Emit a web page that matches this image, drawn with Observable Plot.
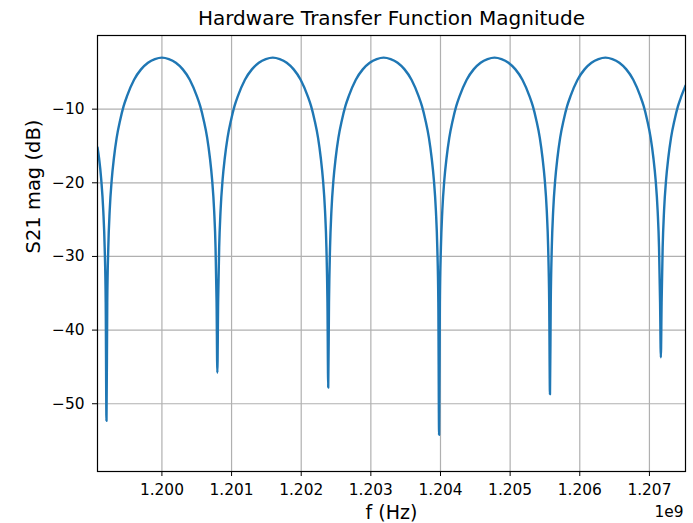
<!DOCTYPE html>
<html>
<head>
<meta charset="utf-8">
<script src="https://cdn.jsdelivr.net/npm/d3@7"></script>
<script src="https://cdn.jsdelivr.net/npm/@observablehq/plot@0.6"></script>
<style>
  html, body { margin: 0; padding: 0; background: #fff; }
  #chart { width: 693px; height: 523px; }
</style>
</head>
<body>
<div id="chart"></div>
<script>
// Frequency in units of 1e9 Hz (GHz)
const freqGHz = [
  1.199075, 1.199098, 1.199128, 1.199158, 1.199178, 1.199193, 1.199204,
  1.199215, 1.199230, 1.199250, 1.199280, 1.199310, 1.199350, 1.199400, 1.199450, 1.199500,
  1.199600, 1.199700, 1.199800, 1.199900, 1.200000, 1.200100, 1.200200, 1.200300, 1.200400,
  1.200500, 1.200550, 1.200600, 1.200650, 1.200690, 1.200720, 1.200750, 1.200770, 1.200785, 1.200796,
  1.200807, 1.200822, 1.200842, 1.200872, 1.200902, 1.200942, 1.200992, 1.201042, 1.201092,
  1.201192, 1.201292, 1.201392, 1.201492, 1.201592, 1.201692, 1.201792, 1.201892, 1.201992,
  1.202092, 1.202142, 1.202192, 1.202242, 1.202282, 1.202312, 1.202342, 1.202362, 1.202377, 1.202388,
  1.202399, 1.202414, 1.202434, 1.202464, 1.202494, 1.202534, 1.202584, 1.202634, 1.202684,
  1.202784, 1.202884, 1.202984, 1.203084, 1.203184, 1.203284, 1.203384, 1.203484, 1.203584,
  1.203684, 1.203734, 1.203784, 1.203834, 1.203874, 1.203904, 1.203934, 1.203954, 1.203969, 1.203980,
  1.203991, 1.204006, 1.204026, 1.204056, 1.204086, 1.204126, 1.204176, 1.204226, 1.204276,
  1.204376, 1.204476, 1.204576, 1.204676, 1.204776, 1.204876, 1.204976, 1.205076, 1.205176,
  1.205276, 1.205326, 1.205376, 1.205426, 1.205466, 1.205496, 1.205526, 1.205546, 1.205561, 1.205572,
  1.205583, 1.205598, 1.205618, 1.205648, 1.205678, 1.205718, 1.205768, 1.205818, 1.205868,
  1.205968, 1.206068, 1.206168, 1.206268, 1.206368, 1.206468, 1.206568, 1.206668, 1.206768,
  1.206868, 1.206918, 1.206968, 1.207018, 1.207058, 1.207088, 1.207118, 1.207138, 1.207153, 1.207164,
  1.207175, 1.207190, 1.207210, 1.207240, 1.207270, 1.207310, 1.207360, 1.207410, 1.207460, 1.207518
];
// S21 magnitude in dB
const magDb = [
  -15.2, -16.7, -19.5, -23.8, -28.8, -36.3, -52.3,
  -36.3, -28.8, -23.8, -19.5, -16.7, -13.9, -11.5, -9.6, -8.2,
  -6.0, -4.6, -3.7, -3.2, -3.0, -3.2, -3.7, -4.6, -6.0,
  -8.2, -9.6, -11.5, -13.9, -16.7, -19.5, -23.8, -28.8, -36.3, -45.8,
  -36.3, -28.8, -23.8, -19.5, -16.7, -13.9, -11.5, -9.6, -8.2,
  -6.0, -4.6, -3.7, -3.2, -3.0, -3.2, -3.7, -4.6, -6.0,
  -8.2, -9.6, -11.5, -13.9, -16.7, -19.5, -23.8, -28.8, -36.3, -47.8,
  -36.3, -28.8, -23.8, -19.5, -16.7, -13.9, -11.5, -9.6, -8.2,
  -6.0, -4.6, -3.7, -3.2, -3.0, -3.2, -3.7, -4.6, -6.0,
  -8.2, -9.6, -11.5, -13.9, -16.7, -19.5, -23.8, -28.8, -36.3, -54.2,
  -36.3, -28.8, -23.8, -19.5, -16.7, -13.9, -11.5, -9.6, -8.2,
  -6.0, -4.6, -3.7, -3.2, -3.0, -3.2, -3.7, -4.6, -6.0,
  -8.2, -9.6, -11.5, -13.9, -16.7, -19.5, -23.8, -28.8, -36.3, -48.7,
  -36.3, -28.8, -23.8, -19.5, -16.7, -13.9, -11.5, -9.6, -8.2,
  -6.0, -4.6, -3.7, -3.2, -3.0, -3.2, -3.7, -4.6, -6.0,
  -8.2, -9.6, -11.5, -13.9, -16.7, -19.5, -23.8, -28.8, -36.3, -43.7,
  -36.3, -28.8, -23.8, -19.5, -16.7, -13.9, -11.5, -9.6, -8.2, -6.8
];
const xTicks = [1.200, 1.201, 1.202, 1.203, 1.204, 1.205, 1.206, 1.207];
const yTicks = [-50, -40, -30, -20, -10];
const titleText = "Hardware Transfer Function Magnitude";
const xLabel = "f (Hz)";
const yLabel = "S21 mag (dB)";
const offsetText = "1e9";

const data = freqGHz.map((f, i) => ({f, db: magDb[i]}));
const font = "DejaVu Sans, sans-serif";

const chart = Plot.plot({
  width: 693,
  height: 523,
  marginTop: 35,
  marginLeft: 97,
  marginRight: 8,
  marginBottom: 52,
  style: {fontFamily: font, fontSize: "15.4px", background: "#fff", color: "#000"},
  x: {domain: [1.199075, 1.207518]},
  y: {domain: [-59.2, 0]},
  marks: [
    Plot.gridX(xTicks, {stroke: "#b0b0b0", strokeOpacity: 1, strokeWidth: 1.2}),
    Plot.gridY(yTicks, {stroke: "#b0b0b0", strokeOpacity: 1, strokeWidth: 1.2}),
    Plot.line(data, {x: "f", y: "db", stroke: "#1f77b4", strokeWidth: 2.4, curve: "monotone-x", clip: true}),
    Plot.frame({stroke: "#000", strokeWidth: 1.2}),
    Plot.axisX({ticks: xTicks, tickFormat: d => d.toFixed(3), tickSize: 5, tickPadding: 8, label: null, fontSize: 15.4, stroke: "#000"}),
    Plot.axisY({ticks: yTicks, tickFormat: d => (d < 0 ? "\u2212" : "") + Math.abs(d), tickSize: 5, tickPadding: 8, label: null, fontSize: 15.4, stroke: "#000"}),
    Plot.text([titleText], {text: d => d, frameAnchor: "top", dy: -17, lineAnchor: "middle", fontSize: 20, fill: "#000"}),
    Plot.text([xLabel], {text: d => d, frameAnchor: "bottom", dy: 41, lineAnchor: "middle", fontSize: 19, fill: "#000"}),
    Plot.text([yLabel], {text: d => d, frameAnchor: "left", dx: -64, rotate: -90, lineAnchor: "middle", fontSize: 19.5, fill: "#000"}),
    Plot.text([offsetText], {text: d => d, frameAnchor: "bottom-right", dx: -2, dy: 41, textAnchor: "end", lineAnchor: "middle", fontSize: 15.4, fill: "#000"})
  ]
});
document.getElementById("chart").appendChild(chart);
</script>
</body>
</html>
